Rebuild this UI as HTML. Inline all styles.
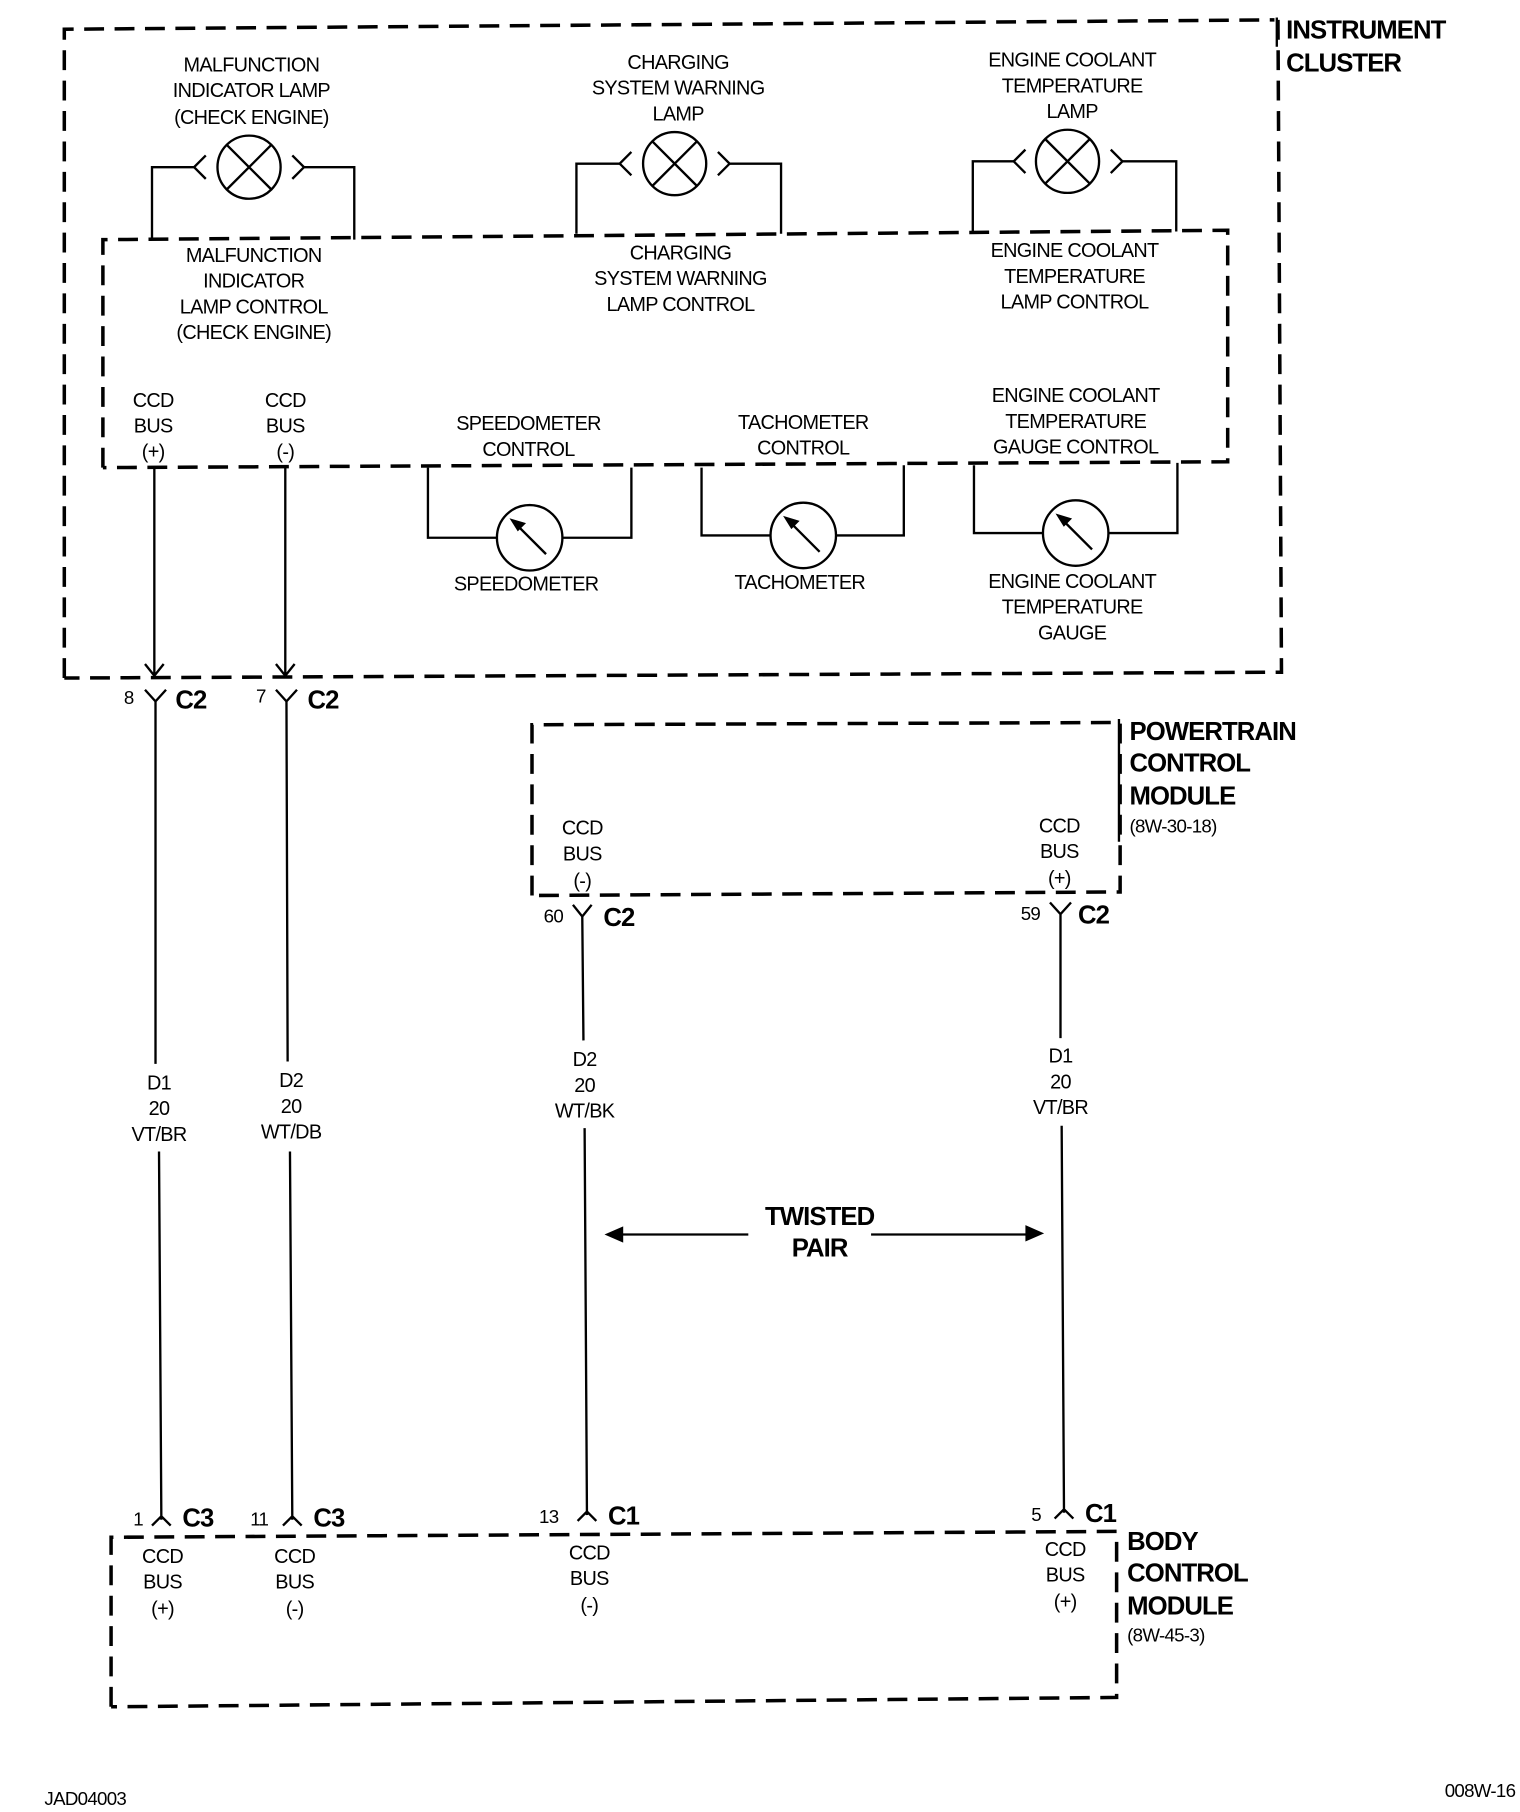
<!DOCTYPE html>
<html><head><meta charset="utf-8"><style>
html,body{margin:0;padding:0;background:#fff;}
svg{display:block;}
text{font-family:"Liberation Sans",sans-serif;fill:#000;}
.t{font-size:17px;text-anchor:middle;letter-spacing:-0.6px;}
.s{font-size:16px;letter-spacing:-0.6px;}
.b{font-size:22px;font-weight:bold;letter-spacing:-0.8px;}
.d{fill:none;stroke:#000;stroke-width:3;stroke-dasharray:17 9;}
.l{fill:none;stroke:#000;stroke-width:2;}
</style></head><body>
<svg width="1520" height="1812" viewBox="0 0 1300 1550" preserveAspectRatio="none">
<!-- Instrument cluster -->
<path class="d" d="M55,580 L55,25 L1090,17 M1093,17 L1096,575 L55,580"/>
<text class="b" x="1100" y="33">INSTRUMENT</text>
<text class="b" x="1100" y="61">CLUSTER</text>
<line class="l" x1="1092" y1="15" x2="1092" y2="40"/>
<!-- inner box -->
<path class="d" d="M88,400 L88,205 L1050,197 L1050,395 L88,400"/>
<!-- lamps -->
<g class="l">
<circle cx="213" cy="143" r="27"/><path d="M194,124 L232,162 M232,124 L194,162"/>
<path d="M176,133 L166,143 L176,153 M250,133 L260,143 L250,153"/>
<path d="M166,143 L130,143 L130,205 M260,143 L303,143 L303,205"/>
<circle cx="577" cy="140" r="27"/><path d="M558,121 L596,159 M596,121 L558,159"/>
<path d="M540,130 L530,140 L540,150 M614,130 L624,140 L614,150"/>
<path d="M530,140 L493,140 L493,200 M624,140 L668,140 L668,200"/>
<circle cx="913" cy="138" r="27"/><path d="M894,119 L932,157 M932,119 L894,157"/>
<path d="M877,128 L867,138 L877,148 M950,128 L960,138 L950,148"/>
<path d="M867,138 L832,138 L832,198 M960,138 L1006,138 L1006,198"/>
</g>
<text class="t" x="215" y="61">MALFUNCTION</text><text class="t" x="215" y="83">INDICATOR LAMP</text><text class="t" x="215" y="106">(CHECK ENGINE)</text>
<text class="t" x="580" y="59">CHARGING</text><text class="t" x="580" y="81">SYSTEM WARNING</text><text class="t" x="580" y="103">LAMP</text>
<text class="t" x="917" y="57">ENGINE COOLANT</text><text class="t" x="917" y="79">TEMPERATURE</text><text class="t" x="917" y="101">LAMP</text>
<text class="t" x="217" y="224">MALFUNCTION</text><text class="t" x="217" y="246">INDICATOR</text><text class="t" x="217" y="268">LAMP CONTROL</text><text class="t" x="217" y="290">(CHECK ENGINE)</text>
<text class="t" x="582" y="222">CHARGING</text><text class="t" x="582" y="244">SYSTEM WARNING</text><text class="t" x="582" y="266">LAMP CONTROL</text>
<text class="t" x="919" y="220">ENGINE COOLANT</text><text class="t" x="919" y="242">TEMPERATURE</text><text class="t" x="919" y="264">LAMP CONTROL</text>
<text class="t" x="131" y="348">CCD</text><text class="t" x="131" y="370">BUS</text><text class="t" x="131" y="392">(+)</text>
<text class="t" x="244" y="348">CCD</text><text class="t" x="244" y="370">BUS</text><text class="t" x="244" y="392">(-)</text>
<text class="t" x="452" y="368">SPEEDOMETER</text><text class="t" x="452" y="390">CONTROL</text>
<text class="t" x="687" y="367">TACHOMETER</text><text class="t" x="687" y="389">CONTROL</text>
<text class="t" x="920" y="344">ENGINE COOLANT</text><text class="t" x="920" y="366">TEMPERATURE</text><text class="t" x="920" y="388">GAUGE CONTROL</text>
<!-- gauges -->
<g class="l">
<circle cx="453" cy="460" r="28"/><path d="M366,400 L366,460 L425,460 M481,460 L540,460 L540,400 M467,474 L440,447"/>
<circle cx="687" cy="458" r="28"/><path d="M600,400 L600,458 L659,458 M715,458 L773,458 L773,398 M701,472 L674,445"/>
<circle cx="920" cy="456" r="28"/><path d="M833,398 L833,456 L892,456 M948,456 L1007,456 L1007,396 M934,470 L907,443"/>
</g>
<path d="M438,445 L448,448 L443,453Z M672,443 L682,446 L677,451Z M905,441 L915,444 L910,449Z" fill="#000" stroke="#000" stroke-width="2"/>
<text class="t" x="450" y="505">SPEEDOMETER</text>
<text class="t" x="684" y="504">TACHOMETER</text>
<text class="t" x="917" y="503">ENGINE COOLANT</text><text class="t" x="917" y="525">TEMPERATURE</text><text class="t" x="917" y="547">GAUGE</text>
<!-- left wires -->
<g class="l">
<path d="M132,400 L132,578 M124,568 L132,578 L140,568"/>
<path d="M124,590 L133,600 L142,590 M133,600 L133,910 M136,985 L138,1300 M130,1305 L138,1297 L146,1305"/>
<path d="M244,400 L244,578 M236,568 L244,578 L252,568"/>
<path d="M236,590 L245,600 L254,590 M245,600 L246,908 M248,985 L250,1300 M242,1305 L250,1297 L258,1305"/>
<path d="M490,774 L498,784 L506,774 M498,784 L499,890 M500,965 L502,1296 M494,1301 L502,1293 L510,1301"/>
<path d="M898,772 L907,782 L916,772 M907,782 L907,888 M908,963 L910,1294 M902,1299 L910,1291 L918,1299"/>
<path d="M530,1056 L640,1056 M745,1056 L880,1056"/>
</g>
<path d="M517,1056 L533,1049 L533,1063Z M893,1055 L877,1048 L877,1062Z" fill="#000"/>
<text class="s" x="106" y="602">8</text><text class="b" x="150" y="606">C2</text>
<text class="s" x="219" y="601">7</text><text class="b" x="263" y="606">C2</text>
<text class="t" x="136" y="932">D1</text><text class="t" x="136" y="954">20</text><text class="t" x="136" y="976">VT/BR</text>
<text class="t" x="249" y="930">D2</text><text class="t" x="249" y="952">20</text><text class="t" x="249" y="974">WT/DB</text>
<text class="t" x="500" y="912">D2</text><text class="t" x="500" y="934">20</text><text class="t" x="500" y="956">WT/BK</text>
<text class="t" x="907" y="909">D1</text><text class="t" x="907" y="931">20</text><text class="t" x="907" y="953">VT/BR</text>
<text class="b" x="701" y="1048" text-anchor="middle">TWISTED</text>
<text class="b" x="701" y="1075" text-anchor="middle">PAIR</text>
<!-- PCM -->
<path class="d" d="M455,766 L455,620 L958,618 L958,763 L455,766"/>
<line class="l" x1="957" y1="615" x2="957" y2="720"/>
<text class="b" x="966" y="633">POWERTRAIN</text><text class="b" x="966" y="660">CONTROL</text><text class="b" x="966" y="688">MODULE</text>
<text class="s" x="966" y="712">(8W-30-18)</text>
<text class="t" x="498" y="714">CCD</text><text class="t" x="498" y="736">BUS</text><text class="t" x="498" y="759">(-)</text>
<text class="t" x="906" y="712">CCD</text><text class="t" x="906" y="734">BUS</text><text class="t" x="906" y="757">(+)</text>
<text class="s" x="465" y="789">60</text><text class="b" x="516" y="792">C2</text>
<text class="s" x="873" y="787">59</text><text class="b" x="922" y="790">C2</text>
<!-- BCM -->
<path class="d" d="M95,1460 L95,1315 L955,1310 L955,1452 L95,1460"/>
<text class="s" x="114" y="1305">1</text><text class="b" x="156" y="1306">C3</text>
<text class="s" x="214" y="1305">11</text><text class="b" x="268" y="1306">C3</text>
<text class="s" x="461" y="1303">13</text><text class="b" x="520" y="1304">C1</text>
<text class="s" x="882" y="1301">5</text><text class="b" x="928" y="1302">C1</text>
<text class="t" x="139" y="1337">CCD</text><text class="t" x="139" y="1359">BUS</text><text class="t" x="139" y="1382">(+)</text>
<text class="t" x="252" y="1337">CCD</text><text class="t" x="252" y="1359">BUS</text><text class="t" x="252" y="1382">(-)</text>
<text class="t" x="504" y="1334">CCD</text><text class="t" x="504" y="1356">BUS</text><text class="t" x="504" y="1379">(-)</text>
<text class="t" x="911" y="1331">CCD</text><text class="t" x="911" y="1353">BUS</text><text class="t" x="911" y="1376">(+)</text>
<text class="b" x="964" y="1326">BODY</text><text class="b" x="964" y="1353">CONTROL</text><text class="b" x="964" y="1381">MODULE</text>
<text class="s" x="964" y="1404">(8W-45-3)</text>
<text class="s" x="38" y="1544">JAD04003</text>
<text class="s" x="1296" y="1537" text-anchor="end">008W-16</text>
</svg>
</body></html>
